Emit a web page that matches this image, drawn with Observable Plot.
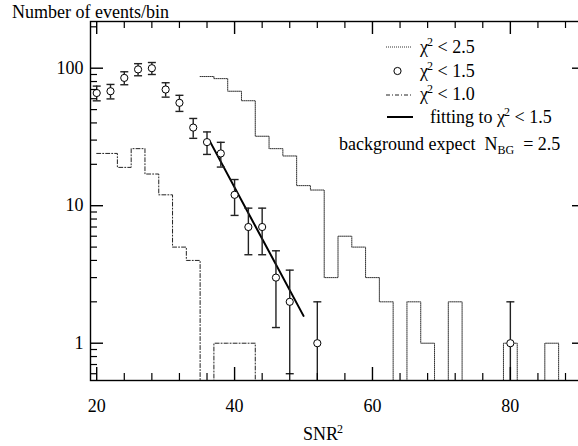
<!DOCTYPE html>
<html><head><meta charset="utf-8">
<script src="https://cdn.jsdelivr.net/npm/d3@7"></script>
<script src="https://cdn.jsdelivr.net/npm/@observablehq/plot@0.6"></script>
<style>
body{margin:0;background:#fff;}
#wrap{width:578px;height:446px;overflow:hidden;position:relative;background:#fff;}
#wrap svg{max-width:none;}
</style></head><body><div id="wrap"></div>
<script>
// χ² < 1.5 points with error bars
const snrX = [20,22,24,26,28,30,32,34,36,38,40,42,44,46,48,52,80];
const countsChi15 = [66,68,85,98,100,70,56,37,29,24,12,7,7,3,2,1,1];
const errChi15 = [8.1,8.2,9.2,9.9,10,8.4,7.5,6.1,5.4,4.9,3.5,2.6,2.6,1.7,1.4,1,1];
// χ² < 2.5 histogram (bin edges, counts per bin)
const edgesChi25 = [35,37,39,41,43,45,47,49,51,53,55,57,59,61,63,65,67,69,71,73,75,77,79,81,83,85,87];
const countsChi25 = [87,84,68,58,32,26,23,14,13,3,6,5,3,2,0,2,1,0,2,0,0,0,1,0,0,1];
// χ² < 1.0 histogram
const edgesChi10 = [20,23,25,27,29,31,33,35,37,39,41,43];
const countsChi10 = [24,19,26,17,12,5,4,0,1,1,1];
// fit line to χ² < 1.5
const fitX = [36.4, 50.0];
const fitY = [29.5, 1.58];
// ticks
const xMajor = [20,40,60,80];
const xMinor = [24,28,32,36,44,48,52,56,64,68,72,76,84,88];
const yMajor = [1,10,100];
const yMinor = [0.6,0.7,0.8,0.9,2,3,4,5,6,7,8,9,20,30,40,50,60,70,80,90,200];
// texts
const yTitle = "Number of events/bin";
const xTitle = "SNR^2";
const legendLabels = ["χ^2 < 2.5", "χ^2 < 1.5", "χ^2 < 1.0", "fitting to χ^2 < 1.5"];
const noteText = "background expect  N_BG  = 2.5";

const W = 585, H = 446, mT = 21, mB = 66, mL = 90, mR = 0;
const innerH = H - mT - mB;
const yMin = 0.5356, yMax = 218.6, floorVal = 0.45;

const pts = snrX.map((x,i)=>({x, y: countsChi15[i], lo: Math.max(countsChi15[i]-errChi15[i], floorVal), hi: countsChi15[i]+errChi15[i]}));
const caps = [];
pts.forEach(p=>{ caps.push({x:p.x, y:p.hi}); if (p.lo > yMin) caps.push({x:p.x, y:p.lo}); });
const hist = (edges, counts) => edges.map((e,i)=>({x:e, y: (i<counts.length && counts[i]>0) ? counts[i] : floorVal}));
const h25 = hist(edgesChi25, countsChi25);
const h10 = hist(edgesChi10, countsChi10);
const fit = fitX.map((x,i)=>({x, y: fitY[i]}));

const capSymbol = {draw(ctx, size){ const w = Math.sqrt(size/Math.PI); ctx.moveTo(-w,0); ctx.lineTo(w,0); }};

const ff = "Liberation Serif, Times New Roman, serif";
const svg = Plot.plot({
  width: W, height: H, marginTop: mT, marginBottom: mB, marginLeft: mL, marginRight: mR,
  style: {fontFamily: ff, fontSize: "18px", color: "#000", background: "#fff"},
  x: {domain: [19.1, 90.9]},
  y: {type: "log", domain: [yMin, yMax]},
  marks: [
    Plot.line(h25, {x:"x", y:"y", curve:"step-after", stroke:"#333", strokeWidth:1, strokeDasharray:"1,1", clip:true}),
    Plot.line(h10, {x:"x", y:"y", curve:"step-after", stroke:"#222", strokeWidth:1, strokeDasharray:"4,2,1,2", clip:true}),
    Plot.line(fit, {x:"x", y:"y", stroke:"#000", strokeWidth:2}),
    Plot.ruleX(pts, {x:"x", y1:"lo", y2:"hi", stroke:"#222", strokeWidth:1.4, clip:true}),
    Plot.dot(caps, {x:"x", y:"y", symbol: capSymbol, r:4, stroke:"#222", strokeWidth:1.4, fill:"none"}),
    Plot.dot(pts, {x:"x", y:"y", r:3.6, fill:"#fff", stroke:"#000", strokeWidth:1}),
    // inward ticks on four sides
    Plot.ruleX(xMinor, {x:d=>d, insetTop: innerH-7, stroke:"#000", strokeWidth:1.2}),
    Plot.ruleX(xMinor, {x:d=>d, insetBottom: innerH-7, stroke:"#000", strokeWidth:1.2}),
    Plot.ruleX(xMajor, {x:d=>d, insetTop: innerH-13, stroke:"#000", strokeWidth:1.4}),
    Plot.ruleX(xMajor, {x:d=>d, insetBottom: innerH-13, stroke:"#000", strokeWidth:1.4}),
    Plot.ruleY(yMinor, {y:d=>d, insetRight: (W-mL-mR)-7, stroke:"#000", strokeWidth:1.2}),
    Plot.ruleY(yMinor, {y:d=>d, insetLeft: (W-mL-mR)-7, stroke:"#000", strokeWidth:1.2}),
    Plot.ruleY(yMajor, {y:d=>d, insetRight: (W-mL-mR)-13, stroke:"#000", strokeWidth:1.4}),
    Plot.ruleY(yMajor, {y:d=>d, insetLeft: (W-mL-mR)-13, stroke:"#000", strokeWidth:1.4}),
    Plot.frame({stroke:"#000", strokeWidth:1.4}),
    Plot.axisX({ticks: xMajor, tickSize: 0, tickPadding: 19, tickFormat: d=>String(d), label: null, fontSize: 18}),
    Plot.axisY({ticks: yMajor, tickSize: 0, tickPadding: 7, tickFormat: d=>String(d), label: null, fontSize: 18})
  ]
});
document.getElementById("wrap").appendChild(svg);

function richText(g, str, x, y, fs, anchor) {
  const t = g.append("text").attr("x", x).attr("y", y).attr("font-size", fs)
    .attr("font-family", ff).attr("fill", "#000").style("white-space", "pre")
    .attr("text-anchor", anchor || "start");
  const parts = str.split(/(\^\w+|_\w+)/);
  let back = 0;
  parts.forEach(p => {
    if (!p) return;
    if (p[0] === "^") { t.append("tspan").attr("dy", -7 + back).attr("dx", -1).attr("font-size", 12).text(p.slice(1)); back = 7; }
    else if (p[0] === "_") { t.append("tspan").attr("dy", 4 + back).attr("font-size", 12).text(p.slice(1)); back = -4; }
    else { t.append("tspan").attr("dy", back).text(p); back = 0; }
  });
  return t;
}
const s = d3.select(svg);
const lg = s.append("g");
// legend samples
lg.append("line").attr("x1",386).attr("x2",411).attr("y1",47).attr("y2",47).attr("stroke","#333").attr("stroke-dasharray","1,1");
lg.append("circle").attr("cx",397.5).attr("cy",71).attr("r",3.6).attr("fill","#fff").attr("stroke","#000");
lg.append("line").attr("x1",386).attr("x2",411).attr("y1",95).attr("y2",95).attr("stroke","#222").attr("stroke-dasharray","4,2,1,2");
lg.append("line").attr("x1",387).attr("x2",413).attr("y1",117).attr("y2",117).attr("stroke","#000").attr("stroke-width",2);
richText(lg, legendLabels[0], 420, 53, 18);
richText(lg, legendLabels[1], 420, 77, 18);
richText(lg, legendLabels[2], 420, 100, 18);
richText(lg, legendLabels[3], 430, 123, 18);
richText(lg, noteText, 339, 150, 18);
richText(s, yTitle, 12, 17.5, 18);
richText(s, xTitle, 303, 440, 18);
</script></body></html>
